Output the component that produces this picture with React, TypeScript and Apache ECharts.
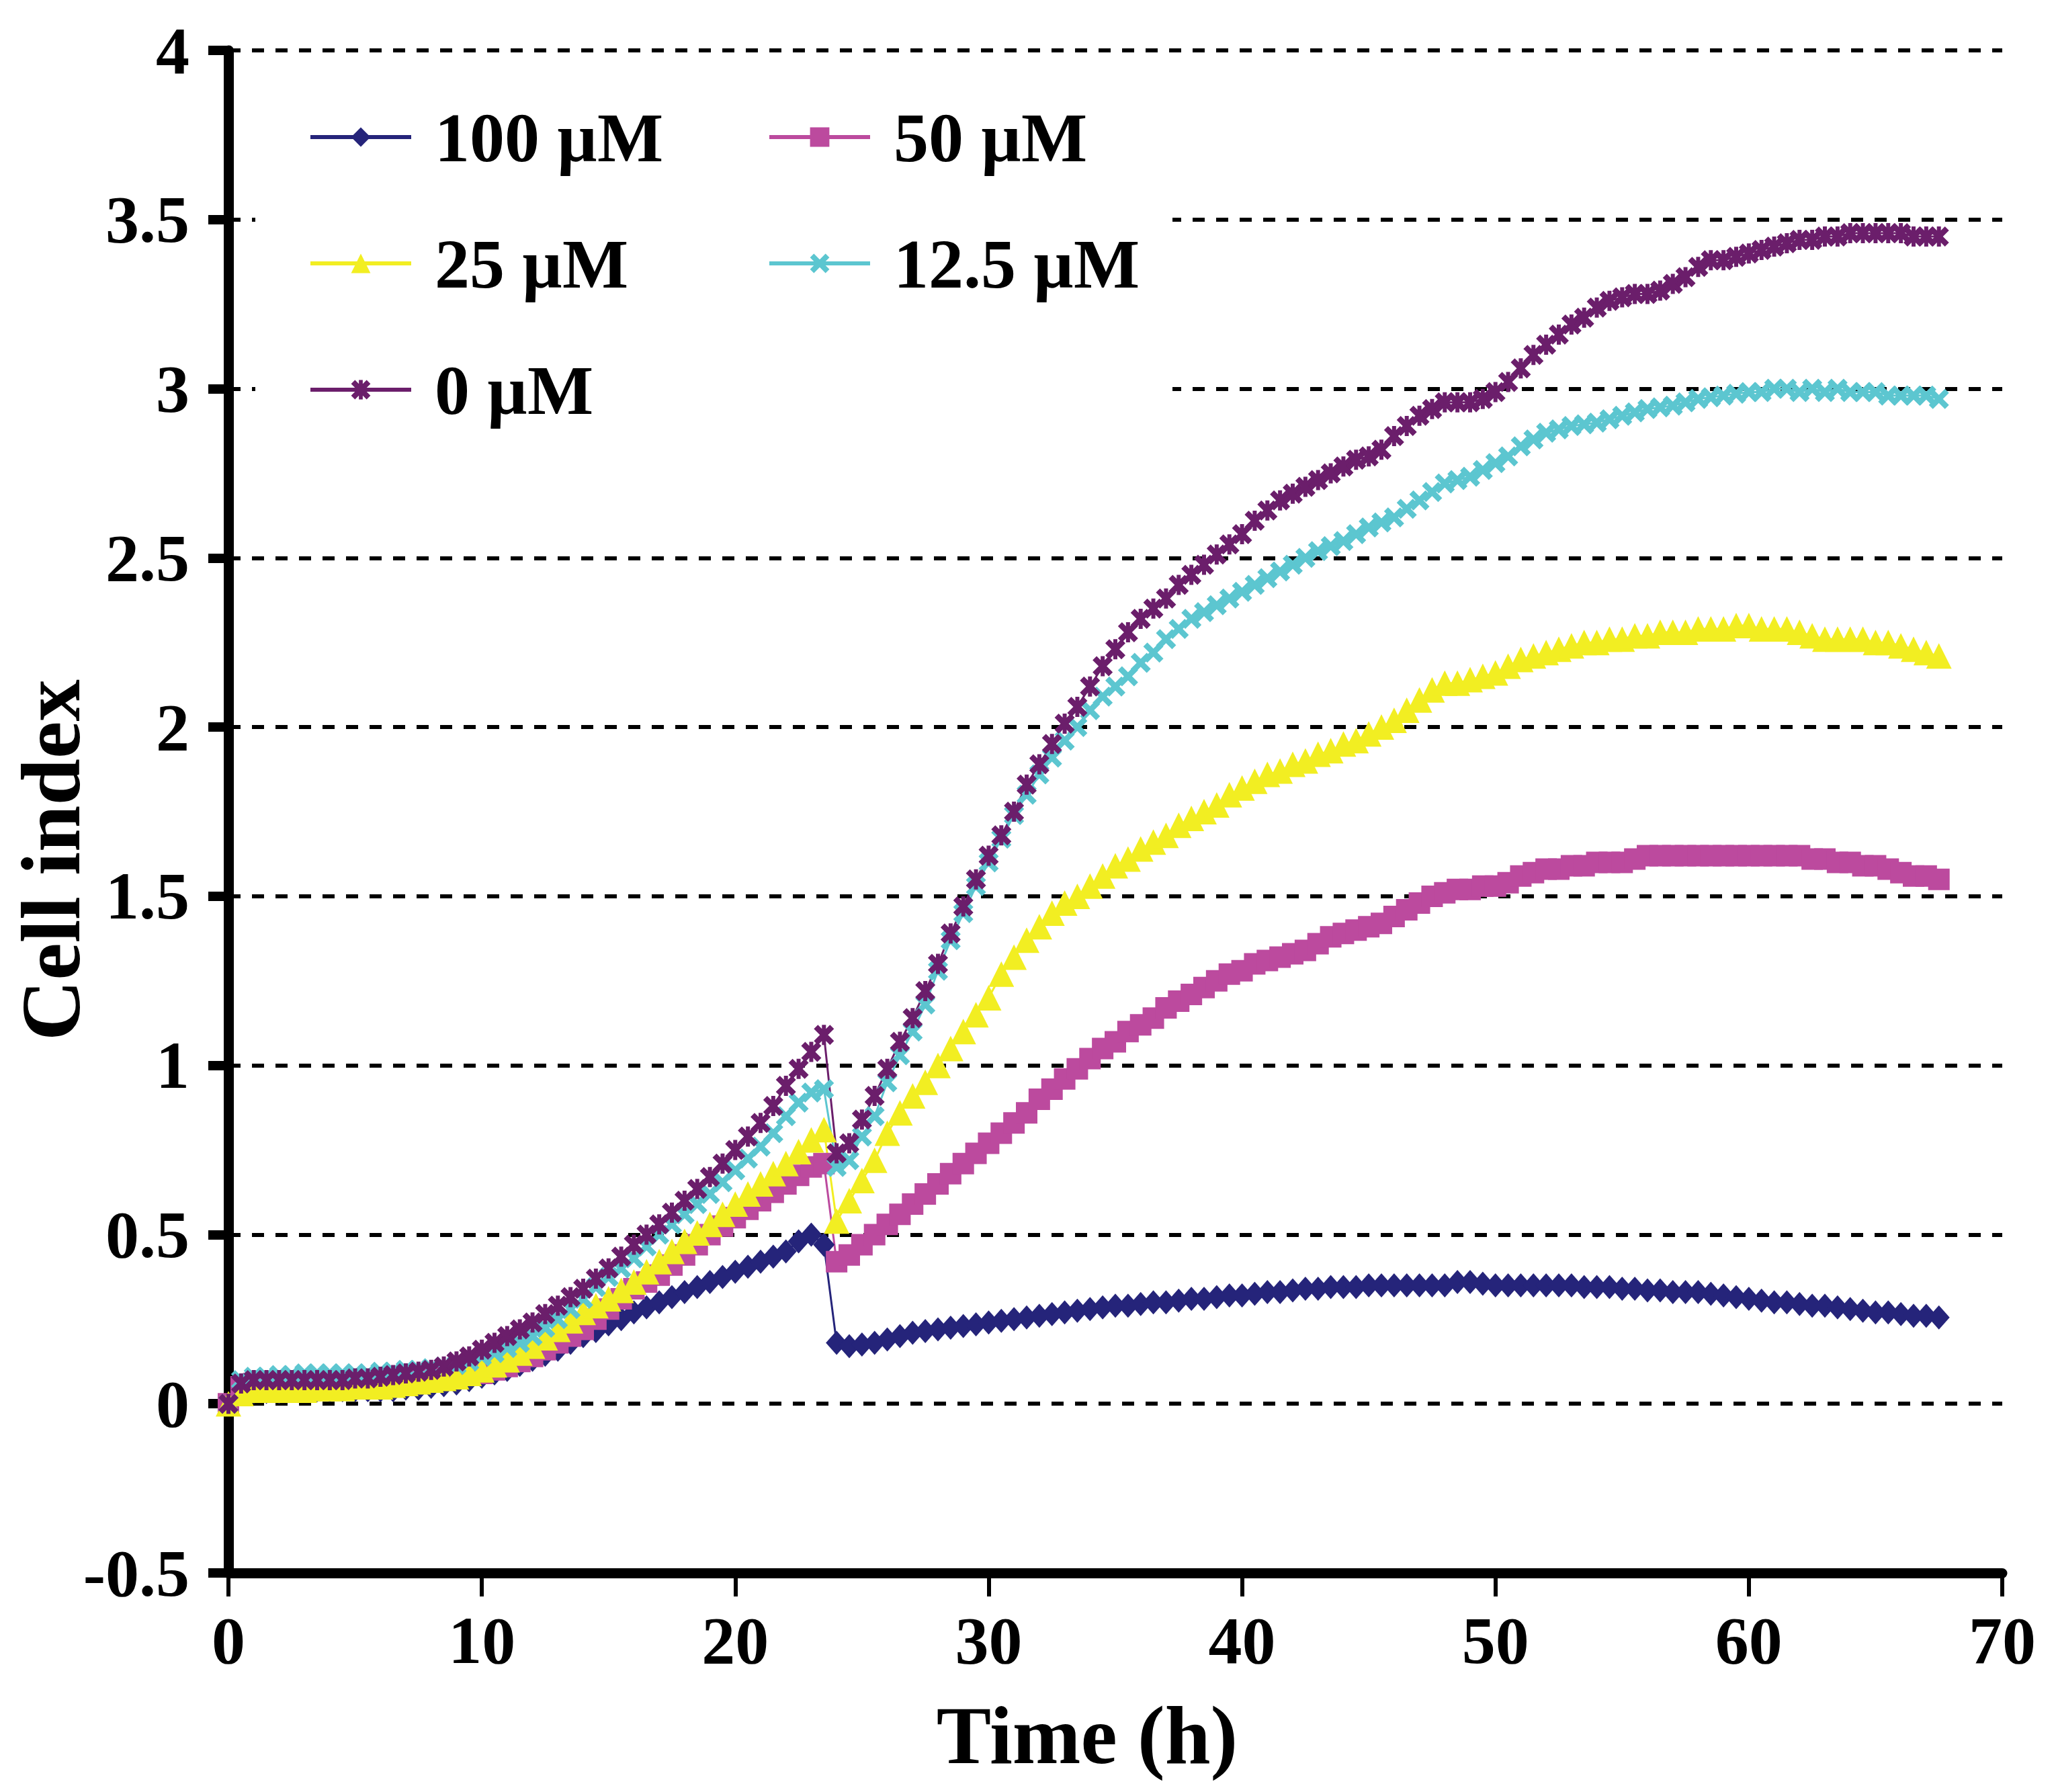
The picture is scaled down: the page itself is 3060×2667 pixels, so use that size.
import React, { useEffect, useRef } from "react";
import * as echarts from "echarts";

// readings every 0.5 h, from 0 h to 67.5 h
const STEP_H = 0.5;

const SERIES_NAMES = ["100 µM", "50 µM", "25 µM", "12.5 µM", "0 µM"];

const CI_100 = [
  0.0, 0.03, 0.035, 0.035, 0.035, 0.04, 0.04, 0.04, 0.04, 0.04,
  0.04, 0.04, 0.04, 0.04, 0.045, 0.045, 0.05, 0.055, 0.06, 0.07,
  0.08, 0.09, 0.1, 0.115, 0.13, 0.145, 0.16, 0.18, 0.2, 0.215,
  0.235, 0.25, 0.27, 0.285, 0.3, 0.315, 0.33, 0.345, 0.36, 0.375,
  0.39, 0.405, 0.42, 0.435, 0.45, 0.48, 0.5, 0.47, 0.18, 0.17,
  0.175, 0.18, 0.19, 0.2, 0.21, 0.215, 0.22, 0.225, 0.23, 0.235,
  0.24, 0.245, 0.25, 0.255, 0.26, 0.265, 0.27, 0.275, 0.28, 0.285,
  0.29, 0.29, 0.295, 0.3, 0.3, 0.305, 0.31, 0.31, 0.315, 0.32,
  0.32, 0.325, 0.33, 0.33, 0.335, 0.34, 0.34, 0.345, 0.345, 0.345,
  0.35, 0.35, 0.35, 0.35, 0.35, 0.35, 0.35, 0.36, 0.36, 0.355,
  0.35, 0.35, 0.35, 0.35, 0.35, 0.35, 0.35, 0.345, 0.345, 0.345,
  0.34, 0.34, 0.335, 0.335, 0.33, 0.33, 0.33, 0.325, 0.32, 0.315,
  0.31, 0.305, 0.3, 0.3, 0.295, 0.29, 0.29, 0.285, 0.28, 0.275,
  0.27, 0.27, 0.265, 0.26, 0.26, 0.255,
];

const CI_50 = [
  0.0, 0.05, 0.06, 0.06, 0.06, 0.06, 0.06, 0.06, 0.06, 0.06,
  0.06, 0.06, 0.065, 0.065, 0.07, 0.07, 0.075, 0.075, 0.08, 0.085,
  0.09, 0.1, 0.11, 0.125, 0.14, 0.16, 0.18, 0.2, 0.22, 0.25,
  0.28, 0.31, 0.34, 0.36, 0.38, 0.41, 0.44, 0.47, 0.5, 0.525,
  0.55, 0.575, 0.6, 0.625, 0.65, 0.675, 0.7, 0.71, 0.42, 0.44,
  0.47, 0.5, 0.53, 0.56, 0.59, 0.62, 0.65, 0.68, 0.71, 0.74,
  0.77, 0.8, 0.83, 0.86, 0.9, 0.93, 0.96, 0.99, 1.02, 1.05,
  1.07, 1.1, 1.12, 1.14, 1.17, 1.19, 1.21, 1.23, 1.25, 1.27,
  1.28, 1.3, 1.31, 1.32, 1.33, 1.34, 1.36, 1.38, 1.39, 1.4,
  1.41, 1.42, 1.44, 1.46, 1.48, 1.5, 1.51, 1.52, 1.52, 1.53,
  1.53, 1.54, 1.56, 1.57, 1.58, 1.58, 1.59, 1.59, 1.6, 1.6,
  1.6, 1.61, 1.62, 1.62, 1.62, 1.62, 1.62, 1.62, 1.62, 1.62,
  1.62, 1.62, 1.62, 1.62, 1.62, 1.61, 1.61, 1.6, 1.6, 1.59,
  1.59, 1.58, 1.57, 1.56, 1.56, 1.55,
];

const CI_25 = [
  0.0, 0.03, 0.04, 0.04, 0.04, 0.04, 0.04, 0.045, 0.045, 0.045,
  0.05, 0.05, 0.05, 0.055, 0.06, 0.065, 0.07, 0.075, 0.08, 0.09,
  0.1, 0.115, 0.13, 0.15, 0.17, 0.195, 0.22, 0.245, 0.27, 0.29,
  0.31, 0.335, 0.36, 0.39, 0.42, 0.45, 0.48, 0.505, 0.53, 0.56,
  0.59, 0.62, 0.65, 0.68, 0.71, 0.745, 0.78, 0.81, 0.54, 0.6,
  0.66, 0.72, 0.8, 0.86, 0.91, 0.95, 1.0, 1.05, 1.1, 1.15,
  1.2, 1.27, 1.32, 1.37, 1.41, 1.45, 1.48, 1.5, 1.53, 1.56,
  1.59, 1.61, 1.64, 1.66, 1.68, 1.71, 1.73, 1.75, 1.77, 1.8,
  1.82, 1.84, 1.86, 1.87, 1.89, 1.9, 1.92, 1.93, 1.95, 1.96,
  1.98, 2.0, 2.02, 2.05, 2.08, 2.11, 2.13, 2.13, 2.14, 2.15,
  2.16, 2.18, 2.2, 2.21, 2.22, 2.23, 2.24, 2.25, 2.25, 2.26,
  2.26, 2.27, 2.27, 2.28, 2.28, 2.28, 2.29, 2.29, 2.29, 2.3,
  2.3, 2.29, 2.29, 2.29, 2.28, 2.27, 2.26, 2.26, 2.26, 2.26,
  2.25, 2.25, 2.24, 2.23, 2.22, 2.21,
];

const CI_12_5 = [
  0.0, 0.07, 0.08, 0.08, 0.085, 0.085, 0.09, 0.09, 0.09, 0.09,
  0.09, 0.09, 0.095, 0.095, 0.1, 0.1, 0.105, 0.11, 0.115, 0.125,
  0.14, 0.15, 0.165, 0.18, 0.2, 0.225, 0.25, 0.28, 0.31, 0.345,
  0.375, 0.4, 0.43, 0.465, 0.5, 0.53, 0.56, 0.59, 0.62, 0.655,
  0.69, 0.725, 0.76, 0.8, 0.85, 0.89, 0.92, 0.93, 0.7, 0.72,
  0.79, 0.85, 0.95, 1.03, 1.1, 1.18, 1.28, 1.37, 1.45, 1.53,
  1.6, 1.67, 1.74, 1.8, 1.86, 1.91, 1.96, 2.0, 2.05, 2.09,
  2.12, 2.15, 2.19, 2.22, 2.26, 2.29, 2.32, 2.34, 2.36, 2.38,
  2.4, 2.42, 2.44, 2.46, 2.48, 2.5, 2.52, 2.535, 2.55, 2.57,
  2.59, 2.605, 2.62, 2.645, 2.67, 2.695, 2.72, 2.73, 2.74, 2.76,
  2.78, 2.8, 2.83, 2.85, 2.87, 2.88, 2.89, 2.895, 2.9, 2.91,
  2.92, 2.93, 2.94, 2.945, 2.95, 2.96, 2.97, 2.975, 2.98, 2.985,
  2.99, 2.99, 3.0, 3.0, 2.99, 3.0, 2.99, 3.0, 2.99, 2.99,
  2.99, 2.98, 2.98, 2.98, 2.98, 2.97,
];

const CI_0 = [
  0.0, 0.06, 0.07, 0.07, 0.07, 0.07, 0.07, 0.07, 0.07, 0.07,
  0.075, 0.075, 0.08, 0.085, 0.09, 0.095, 0.1, 0.11, 0.125, 0.14,
  0.16, 0.18, 0.2, 0.22, 0.24, 0.265, 0.29, 0.315, 0.34, 0.37,
  0.4, 0.435, 0.47, 0.5, 0.53, 0.565, 0.6, 0.635, 0.67, 0.71,
  0.75, 0.79, 0.83, 0.88, 0.94, 0.99, 1.04, 1.09, 0.74, 0.77,
  0.84, 0.91, 0.99, 1.07, 1.14, 1.22, 1.3, 1.39, 1.47, 1.55,
  1.62, 1.68, 1.75, 1.83, 1.89, 1.95, 2.01, 2.06, 2.12, 2.18,
  2.23, 2.28, 2.32, 2.35, 2.38, 2.42, 2.45, 2.48, 2.51, 2.54,
  2.57, 2.61, 2.64, 2.67, 2.69, 2.71, 2.73, 2.75, 2.77, 2.79,
  2.8, 2.82, 2.86, 2.89, 2.92, 2.94, 2.96, 2.96, 2.96, 2.97,
  2.99, 3.02, 3.06, 3.1, 3.13, 3.16, 3.19, 3.21, 3.24, 3.26,
  3.27, 3.28, 3.28, 3.29, 3.31, 3.33, 3.36, 3.38, 3.38, 3.39,
  3.4, 3.41, 3.42, 3.43, 3.44, 3.44, 3.45, 3.45, 3.46, 3.46,
  3.46, 3.46, 3.46, 3.45, 3.45, 3.45,
];

const X_TICKS = { min: 0, max: 70, interval: 10 };
const Y_TICKS = { min: -0.5, max: 4, interval: 0.5 };

const FONT = "Liberation Serif";

// cross and asterisk markers, drawn as filled outlines
const CROSS = "path://M0,2L2,0L5,3L8,0L10,2L7,5L10,8L8,10L5,7L2,10L0,8L3,5Z";
const STAR =
  "path://M0,2L2,0L5,3L8,0L10,2L7,5L10,8L8,10L5,7L2,10L0,8L3,5ZM4,0L6,0L6,10L4,10Z";

const STYLES = [
  { color: "#25247A", symbol: "diamond", size: [32, 36] },
  { color: "#BC4A9E", symbol: "rect", size: 32 },
  { color: "#F2EE22", symbol: "triangle", size: 38 },
  { color: "#5CC6D0", symbol: CROSS, size: 30 },
  { color: "#6B1E6B", symbol: STAR, size: 30 },
];

const App: React.FC = () => {
  const chartRef = useRef<HTMLDivElement | null>(null);

  useEffect(() => {
    if (!chartRef.current) return;
    const chart = echarts.init(chartRef.current, undefined, { renderer: "svg" });

    const values = [CI_100, CI_50, CI_25, CI_12_5, CI_0];
    const series = values.map((vals, k) => ({
      name: SERIES_NAMES[k],
      type: "line",
      data: vals.map((v, i) => [i * STEP_H, v]),
      symbol: STYLES[k].symbol,
      symbolSize: STYLES[k].size,
      showAllSymbol: true,
      lineStyle: { color: STYLES[k].color, width: 3 },
      itemStyle: { color: STYLES[k].color },
      silent: true,
    }));

    const legendBase = {
      orient: "vertical",
      top: 149,
      padding: 0,
      itemWidth: 150,
      itemHeight: 36,
      itemGap: 78,
      selectedMode: false,
      lineStyle: { width: 6 },
      textStyle: {
        color: "#000",
        fontFamily: FONT,
        fontWeight: "bold",
        fontSize: 104,
        lineHeight: 110,
        padding: [0, 0, 0, 30],
      },
    };

    const labelStyle = {
      color: "#000",
      fontFamily: FONT,
      fontWeight: "bold",
      fontSize: 100,
    };

    chart.setOption({
      animation: false,
      backgroundColor: "#fff",
      grid: { left: 340, right: 80, top: 75, bottom: 326, containLabel: false },
      legend: [
        { ...legendBase, left: 459, data: ["100 µM", "25 µM", "0 µM"] },
        { ...legendBase, left: 1142, data: ["50 µM", "12.5 µM"] },
      ],
      xAxis: {
        type: "value",
        ...X_TICKS,
        axisLine: { onZero: false, lineStyle: { color: "#000", width: 15 } },
        axisTick: { length: 35, lineStyle: { color: "#000", width: 6 } },
        axisLabel: { ...labelStyle, margin: 50 },
        splitLine: { show: false },
      },
      yAxis: {
        type: "value",
        ...Y_TICKS,
        axisLine: { show: true, onZero: false, lineStyle: { color: "#000", width: 15 } },
        axisTick: { show: true, length: 30, lineStyle: { color: "#000", width: 14 } },
        axisLabel: { ...labelStyle, margin: 58 },
        splitLine: {
          show: true,
          lineStyle: { color: "#000", width: 6, type: [18, 17] },
        },
      },
      graphic: [
        {
          type: "rect",
          z: 1,
          shape: { x: 380, y: 115, width: 1365, height: 560 },
          style: { fill: "#fff" },
          silent: true,
        },
        {
          type: "text",
          x: 76,
          y: 1280,
          rotation: Math.PI / 2,
          style: {
            text: "Cell index",
            fill: "#000",
            font: `bold 125px '${FONT}'`,
            align: "center",
            verticalAlign: "middle",
            textAlign: "center",
            textVerticalAlign: "middle",
          },
        },
        {
          type: "text",
          x: 1618,
          y: 2582,
          style: {
            text: "Time (h)",
            fill: "#000",
            font: `bold 122px '${FONT}'`,
            align: "center",
            verticalAlign: "middle",
            textAlign: "center",
            textVerticalAlign: "middle",
          },
        },
      ],
      series,
    });

    return () => {
      chart.dispose();
    };
  }, []);

  return (
    <div
      ref={chartRef}
      style={{ position: "absolute", left: 0, top: 0, width: 3060, height: 2667 }}
    />
  );
};

export default App;
